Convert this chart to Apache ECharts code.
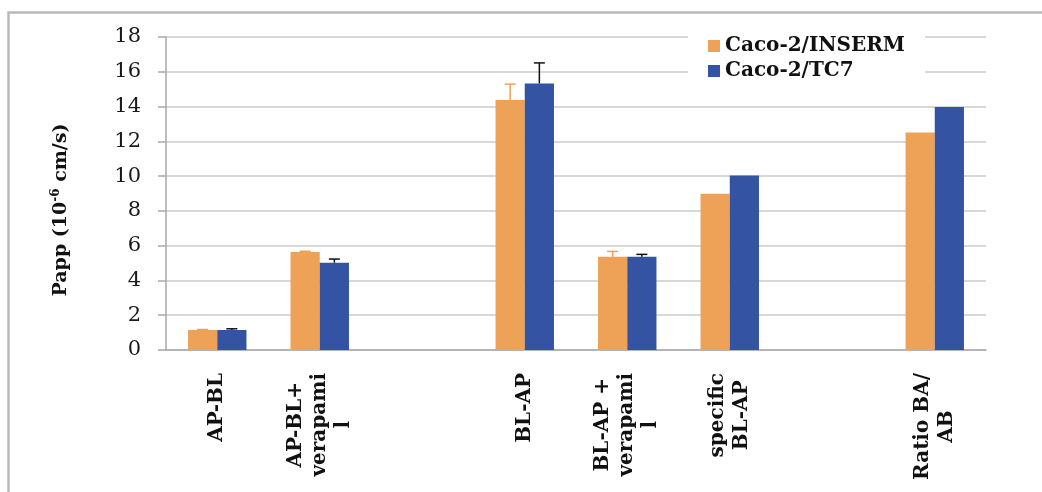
<!DOCTYPE html>
<html>
<head>
<meta charset="utf-8">
<script src="https://cdn.jsdelivr.net/npm/echarts@6/dist/echarts.min.js"></script>
<style>
html,body{margin:0;padding:0;background:#fff;}
#chart{width:1042px;height:492px;}
</style>
</head>
<body>
<div id="chart"></div>
<script>
// ---- data ----
var categories = ['AP-BL', 'AP-BL+\nverapami\nl', ' ', 'BL-AP', 'BL-AP +\nverapami\nl', 'specific\nBL-AP', '  ', 'Ratio BA/\nAB'];
var seriesNames = ['Caco-2/INSERM', 'Caco-2/TC7'];
var inserm = [1.15, 5.63, null, 14.37, 5.36, 8.98, null, 12.51];
var tc7 = [1.15, 5.02, null, 15.33, 5.36, 10.04, null, 13.98];
var insermErr = [0.03, 0.05, null, 0.92, 0.31, null, null, null];
var tc7Err = [0.07, 0.21, null, 1.18, 0.14, null, null, null];
var yTicks = [0, 2, 4, 6, 8, 10, 12, 14, 16, 18];

var ORANGE = '#EDA257';
var BLUE = '#3454A3';
var CAT_GAP = 0.43;

function errData(vals, errs) {
  var out = [];
  for (var i = 0; i < vals.length; i++) {
    if (vals[i] != null && errs[i] != null) out.push([i, vals[i], errs[i]]);
  }
  return out;
}

function makeErrRender(side, color) {
  return function (params, api) {
    var idx = api.value(0), v = api.value(1), e = api.value(2);
    var band = api.size([1, 0])[0];
    var barW = band * (1 - CAT_GAP) / 2;
    var base = api.coord([idx, v]);
    var top = api.coord([idx, v + e]);
    var cx = base[0] + side * barW / 2;
    var cap = 5.5;
    return {
      type: 'group',
      children: [
        {type: 'line', shape: {x1: cx, y1: base[1], x2: cx, y2: top[1]}, style: {stroke: color, lineWidth: 1.5}},
        {type: 'line', shape: {x1: cx - cap, y1: top[1], x2: cx + cap, y2: top[1]}, style: {stroke: color, lineWidth: 1.5}}
      ]
    };
  };
}

var chart = echarts.init(document.getElementById('chart'));
chart.setOption({
  animation: false,
  backgroundColor: '#fff',
  graphic: [{
    type: 'rect', silent: true, z: -10,
    shape: {x: 8.5, y: 12.5, width: 1200, height: 800},
    style: {fill: 'none', stroke: '#b9b9b9', lineWidth: 2.5}
  }],
  grid: {left: 166, right: 56, top: 37, bottom: 142, containLabel: false},
  legend: {
    data: seriesNames,
    orient: 'vertical',
    left: 688,
    top: 30,
    padding: [6, 20, 8, 20],
    backgroundColor: '#ffffff',
    itemWidth: 12,
    itemHeight: 12,
    itemGap: 5,
    icon: 'rect',
    textStyle: {fontFamily: 'DejaVu Serif', fontWeight: 'bold', fontSize: 20, color: '#111'}
  },
  xAxis: {
    type: 'category',
    data: categories,
    boundaryGap: true,
    axisLine: {lineStyle: {color: '#a9a9a9', width: 1.5}},
    axisTick: {length: 7, lineStyle: {color: '#a9a9a9', width: 1.5}},
    axisLabel: {
      interval: 0,
      rotate: 90,
      margin: 23,
      formatter: function (v) {
        return v.split('\n').map(function (s) { return '{c|' + s + '}'; }).join('\n');
      },
      rich: {
        c: {align: 'center', fontFamily: 'DejaVu Serif', fontWeight: 'bold', fontSize: 20, lineHeight: 24, color: '#111'}
      }
    }
  },
  yAxis: {
    type: 'value',
    min: 0,
    max: 18,
    interval: 2,
    name: '{b|Papp (10}{s|-6}{b| cm/s)}',
    nameLocation: 'middle',
    nameGap: 93,
    nameTextStyle: {
      padding: [0, 33, 0, 0],
      rich: {
        b: {fontFamily: 'DejaVu Serif', fontWeight: 'bold', fontSize: 19, color: '#111', lineHeight: 23},
        s: {fontFamily: 'DejaVu Serif', fontWeight: 'bold', fontSize: 12, color: '#111', verticalAlign: 'top', lineHeight: 15}
      }
    },
    axisLine: {show: true, lineStyle: {color: '#a9a9a9', width: 1.5}},
    axisTick: {show: true, length: 8, lineStyle: {color: '#a9a9a9', width: 1.5}},
    axisLabel: {
      margin: 25,
      fontFamily: 'DejaVu Serif',
      fontSize: 21,
      color: '#1a1a1a',
      formatter: function (v) { return yTicks.indexOf(v) >= 0 ? String(v) : ''; }
    },
    splitLine: {lineStyle: {color: '#cbcbcb', width: 1.5}}
  },
  series: [
    {name: seriesNames[0], type: 'bar', data: inserm, barGap: '0%', barCategoryGap: '43%', itemStyle: {color: ORANGE}, z: 2},
    {name: seriesNames[1], type: 'bar', data: tc7, barGap: '0%', barCategoryGap: '43%', itemStyle: {color: BLUE}, z: 2},
    {type: 'custom', name: 'errINSERM', data: errData(inserm, insermErr), renderItem: makeErrRender(-1, ORANGE), z: 5, encode: {x: 0, y: [1, 2]}},
    {type: 'custom', name: 'errTC7', data: errData(tc7, tc7Err), renderItem: makeErrRender(1, '#111'), z: 5, encode: {x: 0, y: [1, 2]}}
  ]
});
</script>
</body>
</html>
